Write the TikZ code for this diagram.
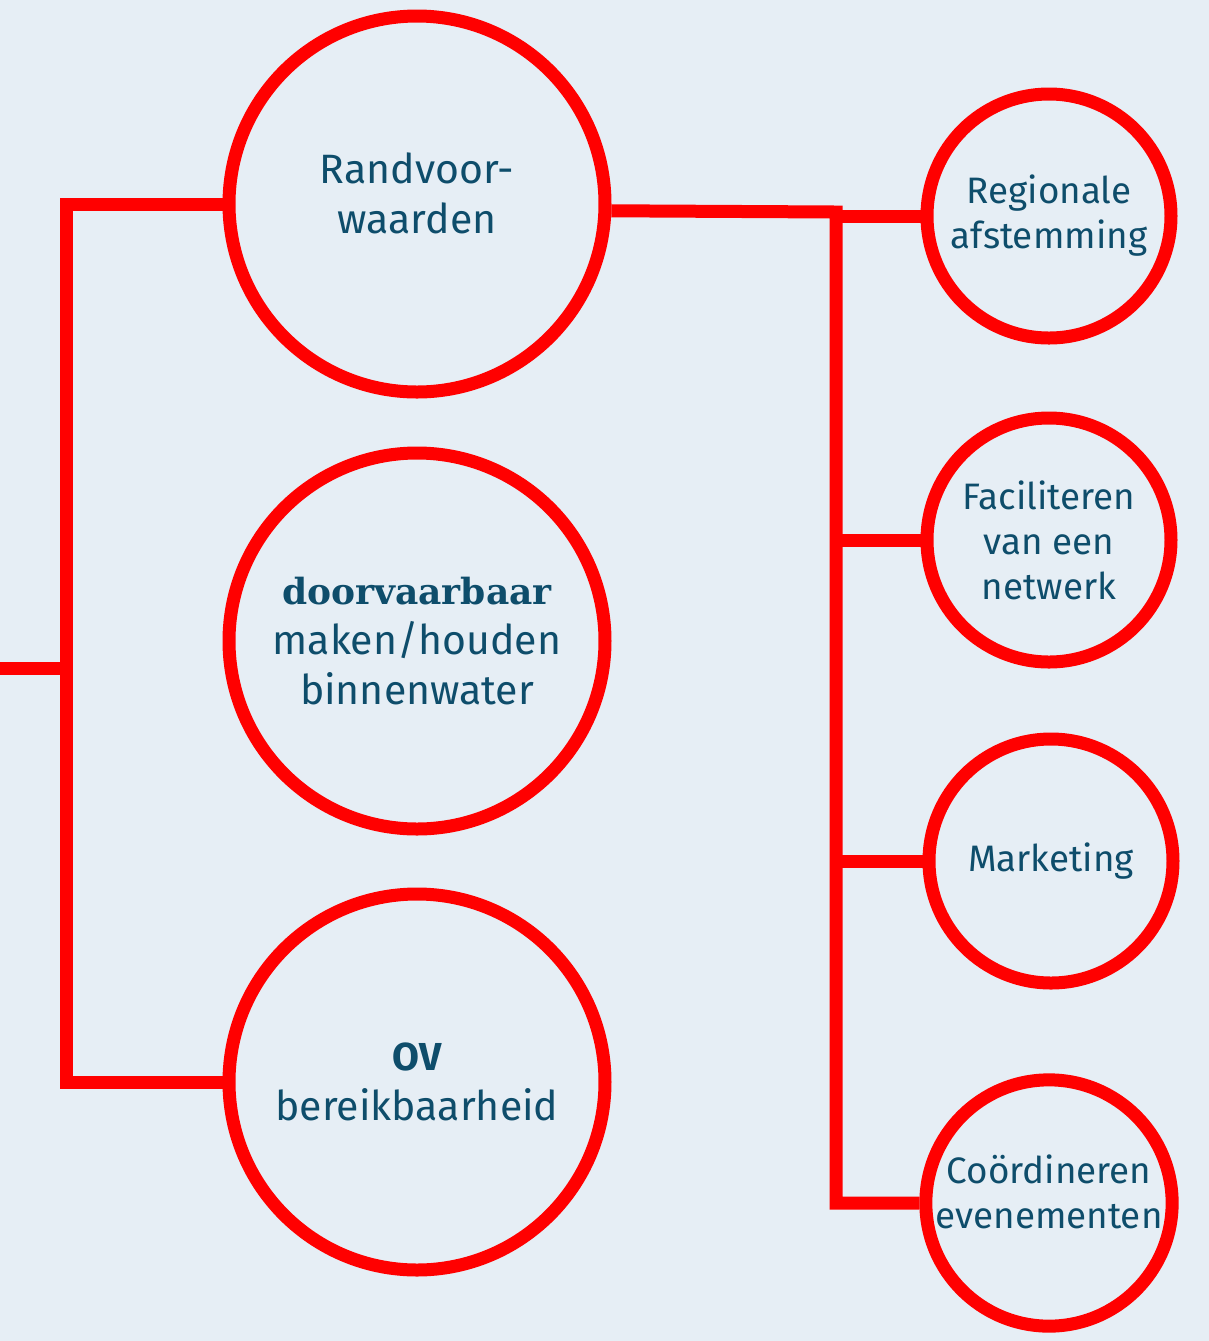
\documentclass[tikz,border=0pt]{standalone}
\usepackage{fontspec}
\setmainfont{Fira Sans}
\newfontfamily\slabfont{DejaVu Serif}
\usetikzlibrary{positioning}

\definecolor{bgblue}{HTML}{E6EEF5}
\definecolor{linered}{HTML}{FF0000}
\definecolor{inkblue}{HTML}{0E4D6B}

\tikzset{
  bigtopic/.style={circle,draw=linered,line width=6.5pt,minimum size=188pt,inner sep=0pt,
    text=inkblue,align=center,font=\fontsize{20.5}{25}\selectfont},
  subtopic/.style={circle,draw=linered,line width=6.5pt,minimum size=122pt,inner sep=0pt,
    text=inkblue,align=center,font=\fontsize{18.4}{22.5}\selectfont},
  branch/.style={draw=linered,line width=6.5pt,line join=miter}
}
\newcommand{\keyword}[1]{{\slabfont\bfseries\fontsize{18}{25}\selectfont #1}}

\begin{document}
\begin{tikzpicture}[x=0.5pt, y=-0.5pt]
  \fill[bgblue] (0,0) rectangle (1209,1341);
  \useasboundingbox (0,0) rectangle (1209,1341);

  % main topics
  \node[bigtopic] (rand) at (417,204) {Randvoor-\\waarden\\[-14pt]};
  \node[bigtopic] (door) at (417,641) {\keyword{doorvaarbaar}\\maken/houden\\binnenwater};
  \node[bigtopic] (ov)   at (417,1082) {{\bfseries\fontsize{19.5}{25}\selectfont OV}\\bereikbaarheid};

  % sub topics
  \node[subtopic] (reg)   at (1049,216)  {Regionale\\afstemming};
  \node[subtopic] (fac)   at (1049,540)  {Faciliteren\\van een\\netwerk};
  \node[subtopic] (mark)  at (1051,861)  {Marketing};
  \node[subtopic] (coord) at (1049,1203) {Coördineren\\evenementen\\[-11.5pt]};

  % connectors
  \coordinate (in) at (0,668);
  \coordinate (lj) at (66,668);
  \coordinate (rj) at (836,212);

  \draw[branch] (in) -- (lj);
  \draw[branch] (rand.west) -| (lj) |- (ov.west);
  \draw[branch] (rand.-2) -- (rj) |- (coord.west);
  \foreach \n in {reg,fac,mark}
    \draw[branch] (rj |- \n.west) -- (\n.west);
\end{tikzpicture}
\end{document}
